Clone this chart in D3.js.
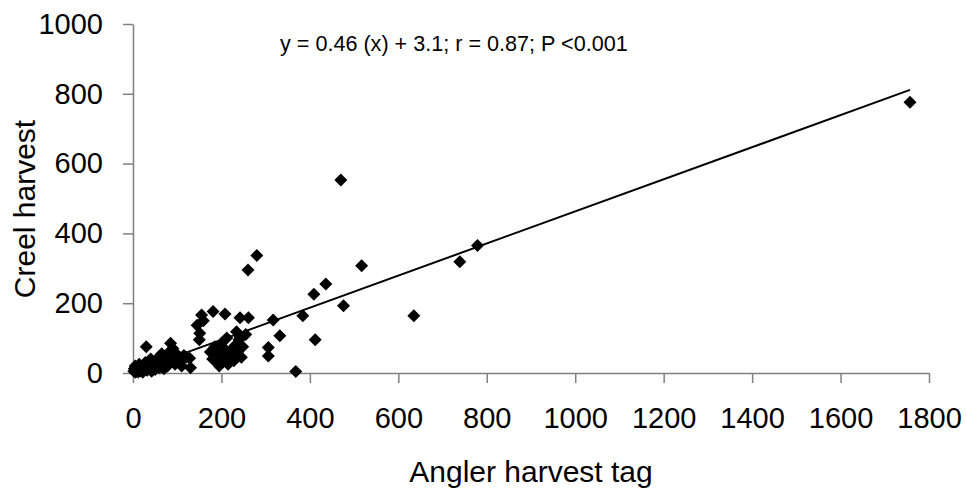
<!DOCTYPE html>
<html>
<head>
<meta charset="utf-8">
<script src="https://cdn.jsdelivr.net/npm/d3@7"></script>
<style>
  body { margin: 0; background: #fff; }
  svg { font-family: Arial, "Liberation Sans", sans-serif; }
</style>
</head>
<body>
<svg width="966" height="491"></svg>
<script>
// точки: угловой учет (x) и опрос рыболовов (y)
const tagHarvest = [
    2, 3, 5, 6, 8, 10, 12, 14, 15, 18, 20, 22, 25, 28, 30, 32, 35, 38, 40, 42,
    45, 48, 50, 52, 55, 58, 60, 62, 65, 68, 70, 72, 75, 78, 80, 82, 85, 88, 90, 92,
    95, 98, 100, 105, 110, 115, 120, 128, 130,
    145, 151, 155, 181, 208, 159, 150, 242, 261, 317,
    175, 180, 185, 190, 195, 200, 205, 210, 215, 220, 225, 228, 232, 236, 240, 234,
    242, 248, 255, 245, 212, 195,
    260, 280, 306, 306, 332, 368, 384, 409, 412, 436, 470, 476, 517, 635, 739, 779, 1757
];
const creelHarvest = [
    5, 12, 20, 2, 8, 15, 3, 25, 10, 6, 18, 2, 12, 30, 75, 8, 20, 14, 40, 5,
    28, 18, 10, 35, 22, 45, 15, 30, 55, 25, 12, 40, 30, 20, 50, 60, 85, 35, 70, 45,
    25, 55, 40, 30, 20, 50, 45, 42, 15,
    137, 114, 166, 176, 169, 150, 95, 158, 158, 152,
    60, 40, 75, 30, 55, 85, 45, 65, 25, 50, 70, 35, 80, 60, 95, 118,
    103, 75, 110, 45, 100, 20,
    295, 337, 73, 49, 107, 4, 164, 226, 95, 255, 553, 193, 307, 164, 319, 365, 776
];
const xTicks = [0, 200, 400, 600, 800, 1000, 1200, 1400, 1600, 1800];
const yTicks = [0, 200, 400, 600, 800, 1000];
// линия регрессии
const slope = 0.46, intercept = 3.1;
const fitRange = [0, 1757];
const equation = "y = 0.46 (x) + 3.1; r = 0.87; P <0.001";

const svg = d3.select("svg");
const padLeft = 133, padRight = 929, padTop = 24, padBottom = 373;

const x = d3.scaleLinear().domain([0, 1800]).range([padLeft, padRight]);
const y = d3.scaleLinear().domain([0, 1000]).range([padBottom, padTop]);

const axisColor = "#808080";

// ось X
const gx = svg.append("g")
    .attr("transform", `translate(0,${padBottom})`)
    .call(d3.axisBottom(x).tickValues(xTicks).tickFormat(d3.format("d"))
        .tickSize(10).tickSizeOuter(0).tickPadding(24));
// ось Y
const gy = svg.append("g")
    .attr("transform", `translate(${padLeft},0)`)
    .call(d3.axisLeft(y).tickValues(yTicks).tickFormat(d3.format("d"))
        .tickSize(10).tickSizeOuter(0).tickPadding(20));

[gx, gy].forEach(g => {
    g.select(".domain").attr("stroke", axisColor).attr("stroke-width", 1.5);
    g.selectAll(".tick line").attr("stroke", axisColor).attr("stroke-width", 1.5);
    g.selectAll(".tick text").attr("fill", "#000").style("font-size", "29px");
});
gx.selectAll(".tick text").attr("dy", "0.71em");

// точки в форме ромба
const points = tagHarvest.map((v, i) => ({x: v, y: creelHarvest[i]}));
const s = 6.5;
const diamond = `M0,${-s}L${s},0L0,${s}L${-s},0Z`;
svg.append("g")
    .selectAll("path")
    .data(points)
    .join("path")
    .attr("d", diamond)
    .attr("transform", d => `translate(${x(d.x)},${y(d.y)})`)
    .attr("fill", "#000");

// линия тренда
const line = d3.line()
    .x(d => x(d))
    .y(d => y(slope * d + intercept));
svg.append("path")
    .attr("d", line(fitRange))
    .attr("stroke", "#000")
    .attr("stroke-width", 2)
    .attr("fill", "none");

// подписи
svg.append("text")
    .attr("x", 280).attr("y", 51)
    .style("font-size", "21.6px")
    .text(equation);

svg.append("text")
    .attr("x", (padLeft + padRight) / 2).attr("y", 482)
    .attr("text-anchor", "middle")
    .style("font-size", "30px")
    .text("Angler harvest tag");

svg.append("text")
    .attr("transform", "translate(35,209) rotate(-90)")
    .attr("text-anchor", "middle")
    .style("font-size", "30px")
    .text("Creel harvest");
</script>
</body>
</html>
